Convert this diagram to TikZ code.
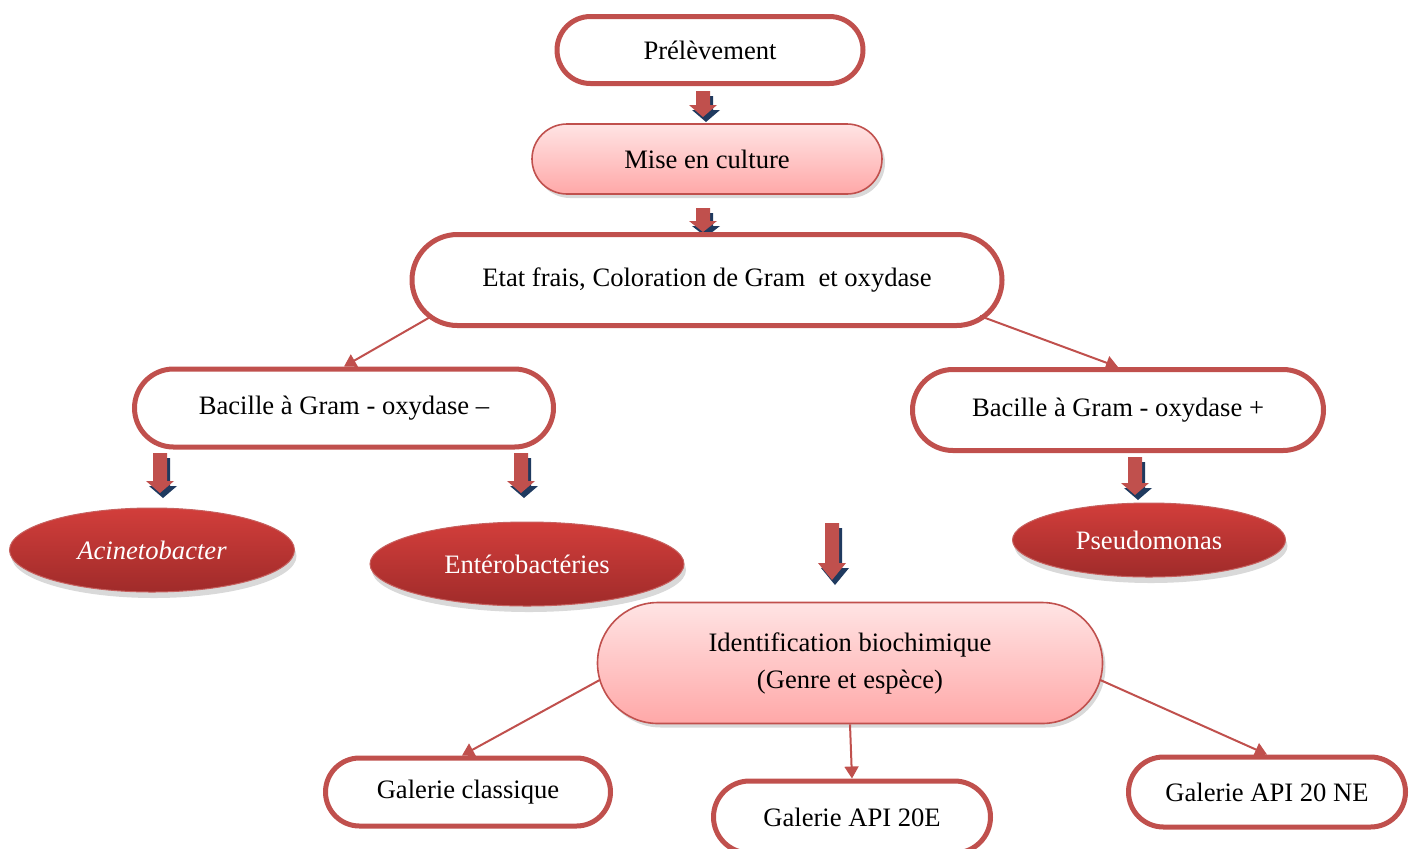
\documentclass[tikz,border=0pt]{standalone}
\usepackage{fontspec}
\setmainfont{Liberation Serif}
\usetikzlibrary{positioning}
\usetikzlibrary{calc}
\usetikzlibrary{shapes.geometric,shapes.misc}
\usetikzlibrary{shadows}
\usetikzlibrary{arrows.meta}
\definecolor{boxred}{HTML}{C0504D}
\definecolor{arrowblue}{HTML}{1F3A5F}
\definecolor{pinktop}{HTML}{FFE4E4}
\definecolor{pinkbot}{HTML}{FFA8A8}
\definecolor{ovaltop}{HTML}{D23E3B}
\definecolor{ovalbot}{HTML}{A02B2A}

% block arrow: x, y of top, length, head height
\newcommand{\blockarrow}[4]{%
  \begin{scope}[shift={(#1,#2)}]
    \fill[arrowblue] (-4,5) -- (10,5) -- (10,#3-#4+5) -- (17,#3-#4+5) -- (3,#3+5) -- (-11,#3-#4+5) -- (-4,#3-#4+5) -- cycle;
    \fill[boxred] (-7,0) -- (7,0) -- (7,#3-#4) -- (14,#3-#4) -- (0,#3) -- (-14,#3-#4) -- (-7,#3-#4) -- cycle;
  \end{scope}}

\begin{document}
\begin{tikzpicture}[
x=0.5pt, y=-0.5pt,
every node/.style={font=\fontsize{13.3}{18.5}\selectfont, inner sep=0, align=center},
pill/.style={rounded rectangle, draw=boxred, line width=2.5pt, fill=white},
pinkpill/.style={rounded rectangle, draw=boxred, line width=0.8pt, top color=pinktop, bottom color=pinkbot,
  drop shadow={opacity=0.3, shadow xshift=1.5pt, shadow yshift=-2pt}},
oval/.style={ellipse, draw=boxred!90, line width=0.5pt, top color=ovaltop, bottom color=ovalbot, text=white,
  drop shadow={opacity=0.3, shadow xshift=1pt, shadow yshift=-3pt}},
link/.style={draw=boxred, line width=1pt, -{Triangle[width=7pt,length=6pt]}}
]
\useasboundingbox (0,0) rectangle (1409,848);

\blockarrow{703}{91}{26}{12}
\blockarrow{703}{208}{24}{11}
\blockarrow{160}{453}{40}{12}
\blockarrow{521}{453}{40}{12}
\blockarrow{1135}{457}{38}{12}
\blockarrow{832}{523}{57}{17}

\node [pill, minimum width=153pt, minimum height=33.5pt] (prel) at (710,50) {Prélèvement};
\node [pinkpill, minimum width=175pt, minimum height=35pt] (mise) at (707,159) {Mise en culture};
\node [pill, minimum width=295pt, minimum height=45.5pt] (etat) at (707,280) {Etat frais, Coloration de Gram~ et oxydase};
\node [pill, minimum width=209.5pt, minimum height=39pt] (bmin) at (344,408) {Bacille à Gram - oxydase --};
\node [pill, minimum width=205.5pt, minimum height=40.5pt] (bplus) at (1118,410) {Bacille à Gram - oxydase +};
\node [oval, minimum width=142.5pt, minimum height=42pt] (acineto) at (152,550) {\itshape Acinetobacter};
\node [oval, minimum width=157pt, minimum height=42pt] (entero) at (527,564) {Entérobactéries};
\node [oval, minimum width=136.5pt, minimum height=37pt] (pseudo) at (1149,540) {Pseudomonas};
\node [pinkpill, minimum width=252.5pt, minimum height=60.5pt] (ident) at (850,663) {Identification biochimique\\(Genre et espèce)};
\node [pill, minimum width=142.5pt, minimum height=34pt] (gclass) at (468,792) {Galerie classique};
\node [pill, minimum width=138.5pt, minimum height=36pt] (api20e) at (852,817) {Galerie API 20E};
\node [pill, minimum width=138.5pt, minimum height=35pt] (api20ne) at (1267,792) {Galerie API 20 NE};

\draw[link] ($(etat.south)+(-275,-12)$) -- (bmin.north);
\draw[link] ($(etat.south)+(273,-12)$) -- (bplus.north);
\draw[link] ($(ident.west)+(3,17)$) -- ($(gclass.north)+(-6,0)$);
\draw[link] (ident.south) -- (api20e.north);
\draw[link] ($(ident.east)+(-3,17)$) -- (api20ne.north);
\end{tikzpicture}
\end{document}
